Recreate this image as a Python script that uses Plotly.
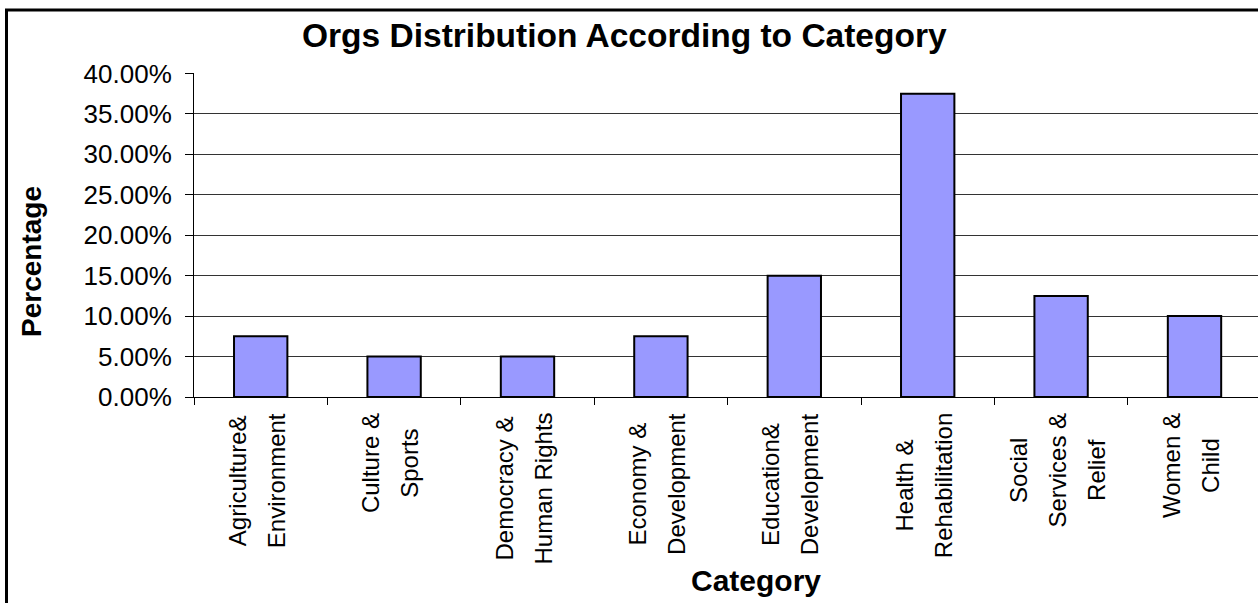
import plotly.graph_objects as go

categories = [
    "Agriculture&<br>Environment",
    "Culture &<br>Sports",
    "Democracy &<br>Human Rights",
    "Economy &<br>Development",
    "Education&<br>Development",
    "Health &<br>Rehabilitation",
    "Social<br>Services &<br>Relief",
    "Women &<br>Child",
]
values = [0.075, 0.05, 0.05, 0.075, 0.15, 0.375, 0.125, 0.10]
y_ticks = [0, 0.05, 0.10, 0.15, 0.20, 0.25, 0.30, 0.35, 0.40]

W, H = 1258, 603
L, R, T, B = 194, 0, 73, 206
pw, ph = W - L - R, H - T - B

def px_x(px):
    return (px - L) / pw

def px_y(py):
    return (H - B - py) / ph

FONT = "Liberation Sans, Arial, sans-serif"

fig = go.Figure()
fig.add_trace(go.Bar(
    x=categories, y=values,
    marker=dict(color="#9999FF", line=dict(color="black", width=2)),
    width=0.4,
))

annotations = []
for c in categories:
    label = "<br>".join("<span style='font-size:24px'>%s</span>" % part for part in c.split("<br>"))
    annotations.append(dict(
        x=c, xref="x", y=0, yref="paper", yshift=-14, xshift=-4,
        xanchor="center", yanchor="top", textangle=-90, align="center",
        text=label, showarrow=False, font=dict(family=FONT, size=30, color="black"),
    ))
annotations.append(dict(
    x=px_x(624), y=px_y(36), xref="paper", yref="paper",
    xanchor="center", yanchor="middle", showarrow=False,
    text="<b>Orgs Distribution According to Category</b>",
    font=dict(family=FONT, size=33.5, color="black"),
))
annotations.append(dict(
    x=px_x(756), y=px_y(580), xref="paper", yref="paper",
    xanchor="center", yanchor="middle", showarrow=False,
    text="<b>Category</b>",
    font=dict(family=FONT, size=30, color="black"),
))
annotations.append(dict(
    x=px_x(31), y=px_y(262), xref="paper", yref="paper",
    xanchor="center", yanchor="middle", showarrow=False, textangle=-90,
    text="<b>Percentage</b>",
    font=dict(family=FONT, size=28, color="black"),
))

shapes = [
    dict(type="line", xref="paper", yref="paper",
         x0=px_x(6.5), x1=px_x(6.5), y0=px_y(9), y1=px_y(610),
         line=dict(color="black", width=3)),
    dict(type="line", xref="paper", yref="paper",
         x0=px_x(5), x1=px_x(1265), y0=px_y(10), y1=px_y(10),
         line=dict(color="black", width=3)),
]

fig.update_layout(
    width=W, height=H,
    margin=dict(l=L, r=R, t=T, b=B, pad=0),
    paper_bgcolor="white", plot_bgcolor="white",
    showlegend=False,
    annotations=annotations,
    shapes=shapes,
    font=dict(family=FONT, color="black"),
)
fig.update_xaxes(
    range=[-0.5, 7.476],
    showticklabels=False,
    ticks="outside", ticklen=7, tickcolor="black", tickson="boundaries",
    showline=True, linecolor="black", linewidth=1,
    showgrid=False, zeroline=False,
)
fig.update_yaxes(
    range=[0, 0.4005],
    tickvals=y_ticks, tickformat=".2%",
    tickfont=dict(family=FONT, size=26, color="black"),
    ticks="outside", ticklen=8, tickcolor="black",
    ticklabelstandoff=8,
    showline=True, linecolor="black", linewidth=1,
    showgrid=True, gridcolor="#333333", gridwidth=1,
    zeroline=False,
)

fig.write_html("out.html")
